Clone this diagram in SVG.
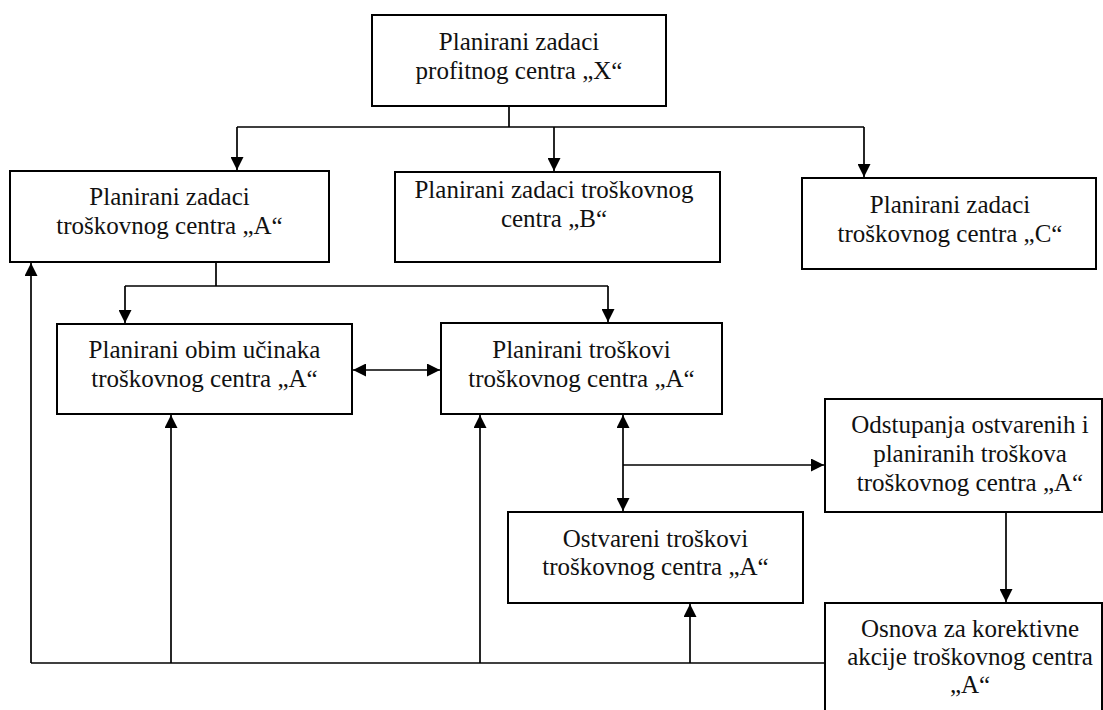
<svg xmlns="http://www.w3.org/2000/svg" width="1103" height="710" viewBox="0 0 1103 710">
  <style>
    .box { fill: #ffffff; stroke: #000000; stroke-width: 2; }
    .lbl { font-family: "Liberation Serif", "Times New Roman", serif; font-size: 25px; fill: #111111; text-anchor: middle; }
    .ln { fill: none; stroke: #000000; stroke-width: 1.7; }
  </style>
  <defs>
    <marker id="ah" viewBox="0 0 13 13" refX="13" refY="6.5" markerWidth="13" markerHeight="13" orient="auto-start-reverse" markerUnits="userSpaceOnUse">
      <path d="M0,0 L13,6.5 L0,13 z" fill="#000000"/>
    </marker>
  </defs>
  <rect width="1103" height="710" fill="#ffffff"/>

  <!-- connectors -->
  <g id="connectors">
    <!-- profit centre X to the three cost centres -->
    <path class="ln" d="M509,106 V127 M237,127 H864"/>
    <path class="ln" d="M237,127 V170" marker-end="url(#ah)"/>
    <path class="ln" d="M554,127 V171" marker-end="url(#ah)"/>
    <path class="ln" d="M864,127 V177" marker-end="url(#ah)"/>
    <!-- cost centre A split -->
    <path class="ln" d="M216,262 V286 M125,286 H608"/>
    <path class="ln" d="M125,286 V323" marker-end="url(#ah)"/>
    <path class="ln" d="M608,286 V322" marker-end="url(#ah)"/>
    <!-- volume <-> planned costs -->
    <path class="ln" d="M353,370 H440" marker-start="url(#ah)" marker-end="url(#ah)"/>
    <!-- planned <-> actual costs, branch to variances -->
    <path class="ln" d="M623,415 V511" marker-start="url(#ah)" marker-end="url(#ah)"/>
    <path class="ln" d="M623,465 H824" marker-end="url(#ah)"/>
    <path class="ln" d="M1006,512 V602" marker-end="url(#ah)"/>
    <!-- feedback loop from corrective actions -->
    <path class="ln" d="M825,663 H31"/>
    <path class="ln" d="M31,663 V263" marker-end="url(#ah)"/>
    <path class="ln" d="M171,663 V415" marker-end="url(#ah)"/>
    <path class="ln" d="M480,663 V415" marker-end="url(#ah)"/>
    <path class="ln" d="M690,663 V604" marker-end="url(#ah)"/>
  </g>

  <g id="node-x">
    <rect class="box" x="372" y="15" width="294" height="91"/>
    <text class="lbl" x="519" y="50">Planirani zadaci</text>
    <text class="lbl" x="519" y="79">profitnog centra „X“</text>
  </g>

  <g id="node-a">
    <rect class="box" x="10" y="171" width="319" height="91"/>
    <text class="lbl" x="169.5" y="205">Planirani zadaci</text>
    <text class="lbl" x="169.5" y="234">troškovnog centra „A“</text>
  </g>

  <g id="node-b">
    <rect class="box" x="395" y="172" width="325" height="90"/>
    <text class="lbl" x="554" y="198">Planirani zadaci troškovnog</text>
    <text class="lbl" x="554" y="227">centra „B“</text>
  </g>

  <g id="node-c">
    <rect class="box" x="802" y="178" width="294" height="91"/>
    <text class="lbl" x="950" y="213">Planirani zadaci</text>
    <text class="lbl" x="950" y="242">troškovnog centra „C“</text>
  </g>

  <g id="node-volume">
    <rect class="box" x="57" y="324" width="295" height="90"/>
    <text class="lbl" x="204.5" y="358">Planirani obim učinaka</text>
    <text class="lbl" x="204.5" y="387">troškovnog centra „A“</text>
  </g>

  <g id="node-planned-costs">
    <rect class="box" x="441" y="323" width="281" height="91"/>
    <text class="lbl" x="581.5" y="358">Planirani troškovi</text>
    <text class="lbl" x="581.5" y="387">troškovnog centra „A“</text>
  </g>

  <g id="node-variances">
    <rect class="box" x="825" y="399" width="277" height="113"/>
    <text class="lbl" x="970" y="433">Odstupanja ostvarenih i</text>
    <text class="lbl" x="970" y="462">planiranih troškova</text>
    <text class="lbl" x="970" y="491">troškovnog centra „A“</text>
  </g>

  <g id="node-actual-costs">
    <rect class="box" x="508" y="512" width="295" height="91"/>
    <text class="lbl" x="655.5" y="547">Ostvareni troškovi</text>
    <text class="lbl" x="655.5" y="575">troškovnog centra „A“</text>
  </g>

  <g id="node-corrective">
    <rect class="box" x="825" y="603" width="277" height="120"/>
    <text class="lbl" x="970" y="637">Osnova za korektivne</text>
    <text class="lbl" x="970" y="665">akcije troškovnog centra</text>
    <text class="lbl" x="970" y="693">„A“</text>
  </g>
</svg>
